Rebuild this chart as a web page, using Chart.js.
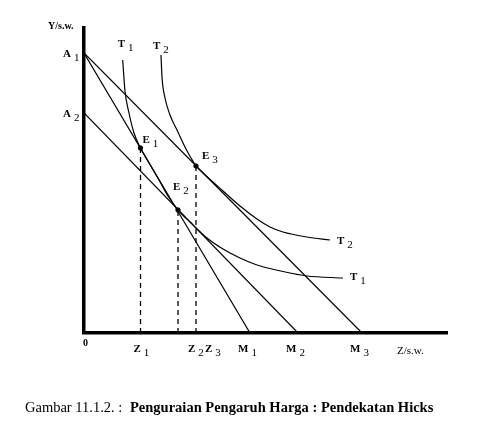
<!DOCTYPE html>
<html>
<head>
<meta charset="utf-8">
<script src="https://cdn.jsdelivr.net/npm/chart.js@4.4.1/dist/chart.umd.min.js"></script>
<style>
  body { margin: 0; background: #fff; }
  canvas { display: block; }
</style>
</head>
<body>
<canvas id="chart" width="496" height="444"></canvas>
<script>
// values (x = good Z, y = good Y, arbitrary units)
const budgetA1M1 = [{ x: 0, y: 280 }, { x: 166, y: 0 }];
const budgetA1M3 = [{ x: 0, y: 280 }, { x: 278, y: 0 }];
const budgetA2M2 = [{ x: 0, y: 220 }, { x: 214, y: 0 }];

const curveT1 = [
  { x: 38.7, y: 273 }, { x: 41, y: 242 }, { x: 45, y: 220 }, { x: 50, y: 200 },
  { x: 56.5, y: 185 }, { x: 65, y: 170 }, { x: 75, y: 153 }, { x: 84, y: 137 },
  { x: 94, y: 123 }, { x: 106, y: 111 }, { x: 123, y: 95 }, { x: 139, y: 84 },
  { x: 156, y: 75 }, { x: 173, y: 68 }, { x: 190, y: 63.5 }, { x: 206, y: 60 },
  { x: 223, y: 57 }, { x: 259, y: 55 }
];
const curveT2 = [
  { x: 77, y: 278 }, { x: 78, y: 256 }, { x: 81, y: 235 }, { x: 86, y: 218 },
  { x: 93, y: 203 }, { x: 102, y: 184 }, { x: 107, y: 175 }, { x: 112, y: 167 },
  { x: 119, y: 160 }, { x: 126, y: 153.5 }, { x: 139, y: 142 }, { x: 156, y: 127 },
  { x: 173, y: 114 }, { x: 186, y: 106 }, { x: 199, y: 101 }, { x: 223, y: 96 },
  { x: 246, y: 93 }
];

const eqNames = ['E1', 'E2', 'E3'];
const eqPoints = [{ x: 56.5, y: 185 }, { x: 94, y: 123 }, { x: 112, y: 167 }];
const zNames = ['Z1', 'Z2', 'Z3'];

const mNames = ['M1', 'M2', 'M3'];
const mValues = [166, 214, 278];
const aNames = ['A1', 'A2'];
const aValues = [280, 220];

const xMax = 363;
const yMax = 305;

const solid = (data) => ({
  data, showLine: true, borderColor: '#000', borderWidth: 1.2,
  pointRadius: 0, fill: false, cubicInterpolationMode: 'monotone'
});

const datasets = [
  solid(budgetA1M1),
  solid(budgetA1M3),
  solid(budgetA2M2),
  solid(curveT1),
  solid(curveT2)
];
eqPoints.forEach(p => {
  datasets.push({
    data: [{ x: p.x, y: 0 }, { x: p.x, y: p.y }], showLine: true,
    borderColor: '#000', borderWidth: 1.3, borderDash: [5, 4], pointRadius: 0
  });
});
datasets.push({
  data: eqPoints, showLine: false, pointRadius: 2.2,
  pointBackgroundColor: '#000', pointBorderColor: '#000'
});

function label(ctx, main, sub, x, y) {
  ctx.font = 'bold 11px "Liberation Serif"';
  ctx.fillText(main, x, y);
  const w = ctx.measureText(main).width;
  if (sub) {
    ctx.font = '11px "Liberation Serif"';
    ctx.fillText(sub, x + w + 3, y + 4);
  }
}

const textPlugin = {
  id: 'texts',
  afterDraw(chart) {
    const { ctx, scales: { x, y } } = chart;
    ctx.save();
    ctx.fillStyle = '#000';
    ctx.textBaseline = 'alphabetic';

    // axis titles
    ctx.font = 'bold 10px "Liberation Serif"';
    ctx.fillText('Y/s.w.', x.getPixelForValue(0) - 36, y.getPixelForValue(yMax) + 1);
    ctx.font = '11px "Liberation Serif"';
    ctx.fillText('Z/s.w.', 397, y.getPixelForValue(0) + 21);
    ctx.font = 'bold 10px "Liberation Serif"';
    ctx.fillText('0', x.getPixelForValue(0) - 1, y.getPixelForValue(0) + 13);

    aNames.forEach((n, i) => label(ctx, n[0], n[1], x.getPixelForValue(0) - 21, y.getPixelForValue(aValues[i]) + 4));
    mNames.forEach((n, i) => label(ctx, n[0], n[1], x.getPixelForValue(mValues[i]) - 12, y.getPixelForValue(0) + 19));
    eqPoints.forEach((p, i) => {
      const px = x.getPixelForValue(p.x);
      const py = y.getPixelForValue(p.y);
      const off = [[2, -5], [-5, -20], [6, -7]][i];
      label(ctx, eqNames[i][0], eqNames[i][1], px + off[0], py + off[1]);
      const zoff = [-7, 10, 9][i];
      label(ctx, zNames[i][0], zNames[i][1], px + zoff, y.getPixelForValue(0) + 19);
    });

    // curve labels
    const t1a = curveT1[0], t2a = curveT2[0];
    label(ctx, 'T', '1', x.getPixelForValue(t1a.x) - 5, y.getPixelForValue(t1a.y) - 13);
    label(ctx, 'T', '2', x.getPixelForValue(t2a.x) - 8, y.getPixelForValue(t2a.y) - 6);
    const t1b = curveT1[curveT1.length - 1], t2b = curveT2[curveT2.length - 1];
    label(ctx, 'T', '1', x.getPixelForValue(t1b.x) + 7, y.getPixelForValue(t1b.y) + 2);
    label(ctx, 'T', '2', x.getPixelForValue(t2b.x) + 7, y.getPixelForValue(t2b.y) + 4);

    // caption
    ctx.font = '14.5px "Liberation Serif"';
    ctx.fillText('Gambar 11.1.2. :', 25, 412);
    ctx.font = 'bold 14.5px "Liberation Serif"';
    ctx.fillText('Penguraian Pengaruh Harga : Pendekatan Hicks', 130, 412);
    ctx.restore();
  }
};

new Chart(document.getElementById('chart'), {
  type: 'scatter',
  data: { datasets },
  options: {
    responsive: false,
    animation: false,
    devicePixelRatio: 1,
    layout: { padding: { left: 84, top: 28, right: 49, bottom: 111 } },
    plugins: { legend: { display: false }, tooltip: { enabled: false } },
    scales: {
      x: {
        type: 'linear', min: 0, max: xMax,
        grid: { display: false, drawTicks: false },
        ticks: { display: false },
        border: { display: true, color: '#000', width: 3.5 }
      },
      y: {
        type: 'linear', min: 0, max: yMax,
        grid: { display: false, drawTicks: false },
        ticks: { display: false },
        border: { display: true, color: '#000', width: 3.5 }
      }
    }
  },
  plugins: [textPlugin]
});
</script>
</body>
</html>
